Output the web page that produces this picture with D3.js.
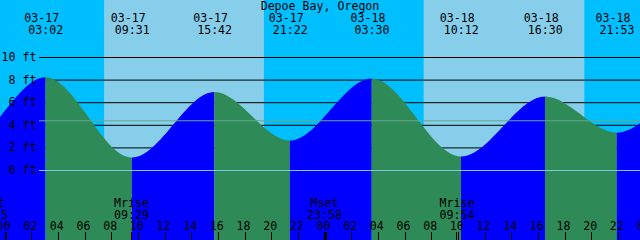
<!DOCTYPE html>
<html>
<head>
<meta charset="utf-8">
<script src="https://cdn.jsdelivr.net/npm/d3@7"></script>
<style>
  body { margin: 0; background: #fff; }
  svg { display: block; }
  text { font-family: "DejaVu Sans Mono", monospace; font-size: 11.6px; fill: #000; }
</style>
</head>
<body>
<div id="chart"></div>
<script>
// tide extremes (first two and last two are off screen, needed for the curve shape)
var tideTimes = ["03-16 14:50", "03-16 20:46", "03-17 03:02", "03-17 09:31", "03-17 15:42", "03-17 21:22",
  "03-18 03:30", "03-18 10:12", "03-18 16:30", "03-18 21:53", "03-19 04:05", "03-19 10:50"];
var tideHeights = [7.0, 2.0, 8.2, 1.1, 6.9, 2.6, 8.1, 1.2, 6.5, 3.3, 7.6, 1.5];

var sunrise = ["03-17 07:26", "03-18 07:24"];
var sunset = ["03-17 19:25", "03-18 19:27"];

var moonTimes = ["03-16 22:55", "03-17 09:29", "03-17 23:58", "03-18 09:54"];
var moonEvents = ["Mset", "Mrise", "Mset", "Mrise"];

var feetTicks = [0, 2, 4, 6, 8, 10];
var meanLevel = 4.4;
var title = "Depoe Bay, Oregon";

var width = 640, height = 240;

// hours counted from 03-17 00:00
function hrs(s) {
  return (+s.slice(3, 5) - 17) * 24 + +s.slice(6, 8) + +s.slice(9, 11) / 60;
}

var x = d3.scaleLinear().domain([-0.375, 47.625]).range([0, width]);
var y = d3.scaleLinear().domain([0, 10]).range([170, 57]);

var svg = d3.select("#chart").append("svg")
  .attr("width", width)
  .attr("height", height);

// night background, day bands
svg.append("rect")
  .attr("width", width).attr("height", height)
  .attr("fill", "#00BFFF");

svg.selectAll("rect.day")
  .data(sunrise)
  .enter()
  .append("rect")
  .attr("class", "day")
  .attr("x", function(d) { return x(hrs(d)); })
  .attr("width", function(d, i) { return x(hrs(sunset[i])) - x(hrs(d)); })
  .attr("y", 0)
  .attr("height", height)
  .attr("fill", "#87CEEB");

// black grid lines (behind the water)
svg.selectAll("line.grid")
  .data(feetTicks.filter(function(d) { return d > 0; }))
  .enter()
  .append("line")
  .attr("class", "grid")
  .attr("x1", 39).attr("x2", width)
  .attr("y1", function(d) { return y(d) + 0.5; })
  .attr("y2", function(d) { return y(d) + 0.5; })
  .attr("stroke", "#000")
  .attr("stroke-width", 1);

var tide = tideTimes.map(function(d, i) { return {t: hrs(d), h: tideHeights[i]}; });

var area = d3.area()
  .x(function(d) { return x(d.t); })
  .y0(height)
  .y1(function(d) { return y(d.h); })
  .curve(d3.curveMonotoneX);

var defs = svg.append("defs");
var segs = d3.range(tide.length - 1);

defs.selectAll("clipPath")
  .data(segs)
  .enter()
  .append("clipPath")
  .attr("id", function(i) { return "seg" + i; })
  .append("rect")
  .attr("x", function(i) { return x(tide[i].t); })
  .attr("width", function(i) { return x(tide[i + 1].t) - x(tide[i].t); })
  .attr("y", 0)
  .attr("height", height);

svg.selectAll("path.water")
  .data(segs)
  .enter()
  .append("path")
  .attr("class", "water")
  .attr("d", area(tide))
  .attr("clip-path", function(i) { return "url(#seg" + i + ")"; })
  .attr("fill", function(i) { return tide[i + 1].h > tide[i].h ? "#0000FF" : "#2E8B57"; });

// mean level and zero lines drawn over the water
svg.append("line")
  .attr("x1", 39).attr("x2", width)
  .attr("y1", y(meanLevel) + 0.5).attr("y2", y(meanLevel) + 0.5)
  .attr("stroke", "#66A88E");

svg.append("line")
  .attr("x1", 39).attr("x2", width)
  .attr("y1", y(0) + 0.5).attr("y2", y(0) + 0.5)
  .attr("stroke", "#80C8E6");

// feet labels
svg.selectAll("text.ft")
  .data(feetTicks)
  .enter()
  .append("text")
  .attr("class", "ft")
  .attr("x", 36.5)
  .attr("y", function(d) { return y(d) + 4; })
  .attr("text-anchor", "end")
  .text(function(d) { return d + " ft"; });

// title
svg.append("text")
  .attr("x", width / 2)
  .attr("y", 10)
  .attr("text-anchor", "middle")
  .text(title);

// high / low labels
var shown = tideTimes.filter(function(d) { var px = x(hrs(d)); return px >= 0 && px <= width; });

var lbl = svg.selectAll("g.tlabel")
  .data(shown)
  .enter()
  .append("g")
  .attr("class", "tlabel");
lbl.append("text")
  .attr("x", function(d) { return x(hrs(d)) - 3.7; })
  .attr("y", 21.7)
  .attr("text-anchor", "middle")
  .text(function(d) { return d.slice(0, 5); });
lbl.append("text")
  .attr("x", function(d) { return x(hrs(d)) + 0.3; })
  .attr("y", 34)
  .attr("text-anchor", "middle")
  .text(function(d) { return d.slice(6); });

// hour ticks along the bottom
var hours = d3.range(0, 49, 2);
svg.selectAll("line.htick")
  .data(hours)
  .enter()
  .append("line")
  .attr("class", "htick")
  .attr("x1", function(d) { return Math.floor(x(d)) + (d % 24 == 0 ? 1 : 0.5); })
  .attr("x2", function(d) { return Math.floor(x(d)) + (d % 24 == 0 ? 1 : 0.5); })
  .attr("y1", 232).attr("y2", height)
  .attr("stroke", "#000")
  .attr("stroke-width", function(d) { return d % 24 == 0 ? 2 : 1; });

svg.selectAll("text.hour")
  .data(hours)
  .enter()
  .append("text")
  .attr("class", "hour")
  .attr("x", function(d) { return x(d) - 1.5; })
  .attr("y", 230)
  .attr("text-anchor", "middle")
  .text(function(d) { return d3.format("02d")(d % 24); });

// moon rise / set
svg.selectAll("line.mtick")
  .data(moonTimes)
  .enter()
  .append("line")
  .attr("class", "mtick")
  .attr("x1", function(d) { return Math.floor(x(hrs(d))) + 0.5; })
  .attr("x2", function(d) { return Math.floor(x(hrs(d))) + 0.5; })
  .attr("y1", 232).attr("y2", height)
  .attr("stroke", "#000");

var ml = svg.selectAll("g.moon")
  .data(moonTimes)
  .enter()
  .append("g")
  .attr("class", "moon");
ml.append("text")
  .attr("x", function(d) { return x(hrs(d)); })
  .attr("y", 206.5)
  .attr("text-anchor", "middle")
  .text(function(d, i) { return moonEvents[i]; });
ml.append("text")
  .attr("x", function(d) { return x(hrs(d)); })
  .attr("y", 218.5)
  .attr("text-anchor", "middle")
  .text(function(d) { return d.slice(6); });
</script>
</body>
</html>
